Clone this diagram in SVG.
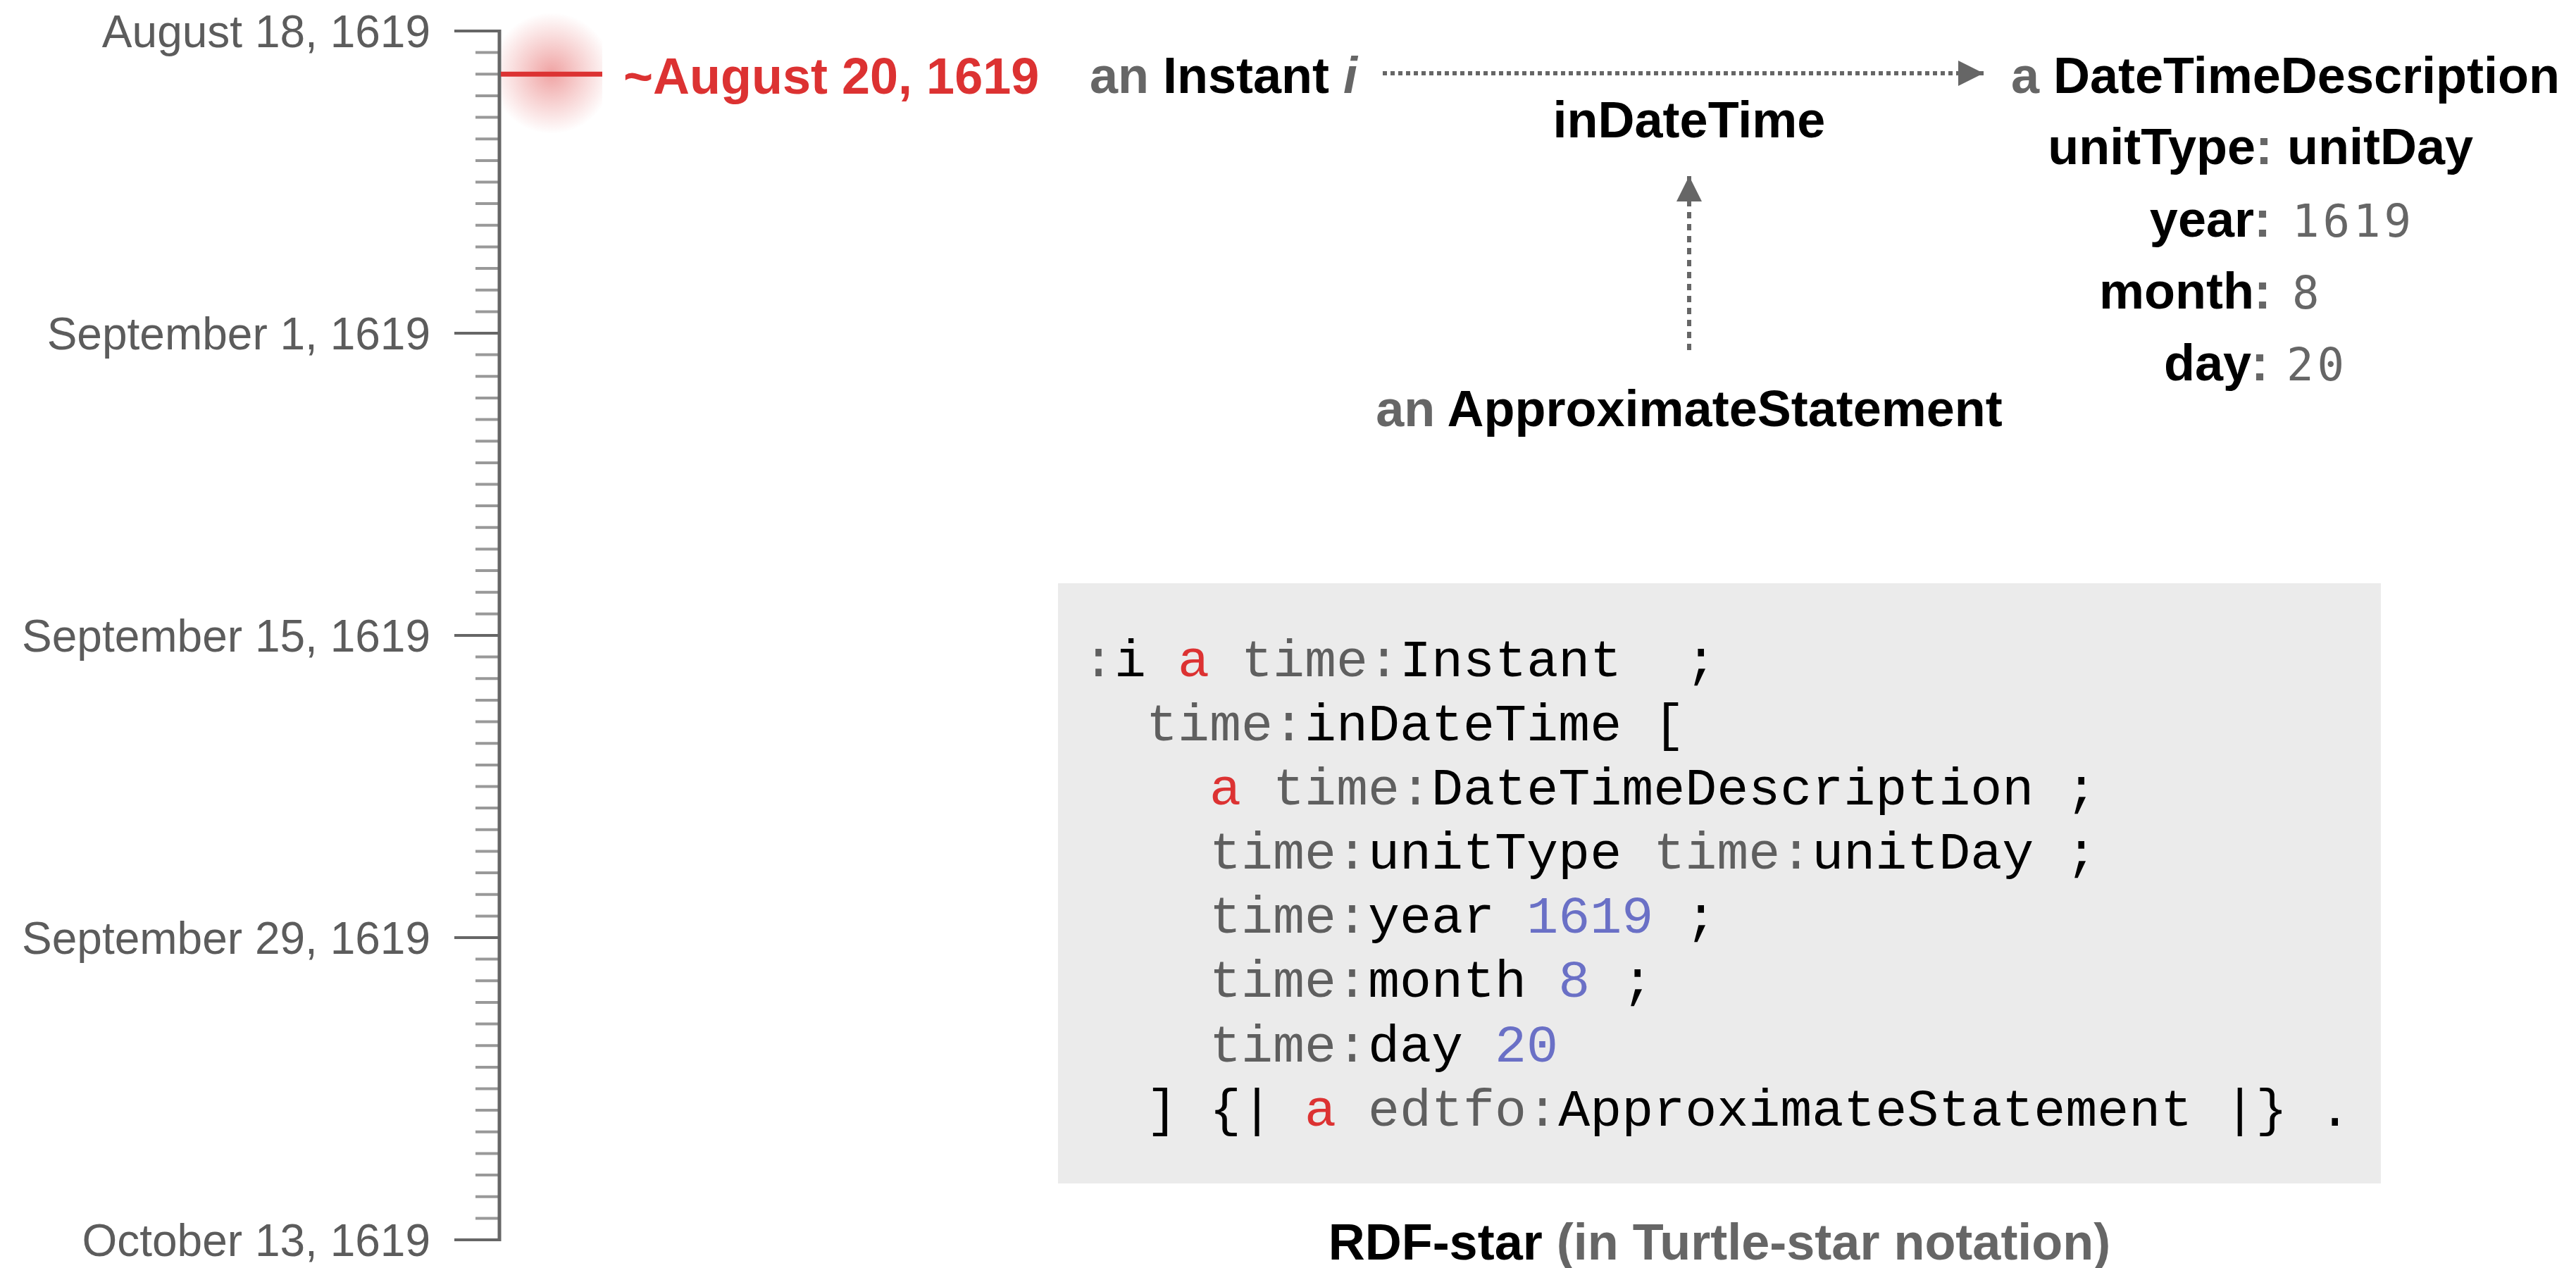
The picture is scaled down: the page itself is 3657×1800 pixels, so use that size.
<svg xmlns="http://www.w3.org/2000/svg" width="3657" height="1800" viewBox="0 0 3657 1800">
  <style>
    .lbl { font-family: "Liberation Sans", Arial, sans-serif; font-size: 72px; font-weight: bold; fill: #000; }
    .dim { fill: #666; }
    .date { font-family: "Liberation Sans", Arial, sans-serif; font-size: 64px; fill: #5c5c5c; text-anchor: end; }
    .val { font-family: "DejaVu Sans Mono", monospace; font-size: 64px; font-weight: normal; fill: #666; letter-spacing: 5px; }
    .code { font-family: "Liberation Mono", "Courier New", monospace; font-size: 75px; fill: #000; white-space: pre; }
    .g { fill: #5f5f5f; }
    .r { fill: #dc3232; }
    .b { fill: #6a70c6; }
    .conn { fill: none; stroke: #666; stroke-width: 6; }
  </style>
  <defs>
    <radialGradient id="glow" cx="0.5" cy="0.5" r="0.5">
      <stop offset="0" stop-color="#dc3232" stop-opacity="0.45"/>
      <stop offset="0.5" stop-color="#dc3232" stop-opacity="0.22"/>
      <stop offset="1" stop-color="#dc3232" stop-opacity="0"/>
    </radialGradient>
    <clipPath id="glowClip">
      <rect x="712" y="0" width="143" height="220"/>
    </clipPath>
    <marker id="head" viewBox="0 0 10 10" refX="10" refY="5" markerWidth="6.2" markerHeight="6" markerUnits="strokeWidth" orient="auto">
      <path d="M0 0L10 5L0 10z" fill="#666"/>
    </marker>
  </defs>

  <!-- timeline axis -->
  <g id="timeline">
    <path d="M675 74.6h32M675 105.3h32M675 135.9h32M675 166.6h32M675 197.2h32M675 227.9h32M675 258.5h32M675 289.1h32M675 319.8h32M675 350.4h32M675 381.1h32M675 411.7h32M675 442.4h32M675 503.6h32M675 534.3h32M675 564.9h32M675 595.6h32M675 626.2h32M675 656.9h32M675 687.5h32M675 718.1h32M675 748.8h32M675 779.4h32M675 810.1h32M675 840.7h32M675 871.4h32M675 932.6h32M675 963.3h32M675 993.9h32M675 1024.6h32M675 1055.2h32M675 1085.9h32M675 1116.5h32M675 1147.1h32M675 1177.8h32M675 1208.4h32M675 1239.1h32M675 1269.7h32M675 1300.4h32M675 1361.6h32M675 1392.3h32M675 1422.9h32M675 1453.6h32M675 1484.2h32M675 1514.9h32M675 1545.5h32M675 1576.1h32M675 1606.8h32M675 1637.4h32M675 1668.1h32M675 1698.7h32M675 1729.4h32" stroke="#999" stroke-width="4" fill="none"/>
    <path d="M645 44h64M645 473h64M645 902h64M645 1331h64M645 1760h64" stroke="#666" stroke-width="4" fill="none"/>
    <line x1="709" y1="42" x2="709" y2="1762" stroke="#666" stroke-width="5"/>
    <text class="date" x="611" y="67">August 18, 1619</text>
    <text class="date" x="611" y="496">September 1, 1619</text>
    <text class="date" x="611" y="925">September 15, 1619</text>
    <text class="date" x="611" y="1354">September 29, 1619</text>
    <text class="date" x="611" y="1783">October 13, 1619</text>
  </g>

  <!-- approximate date marker -->
  <g id="marker-date">
    <circle cx="783" cy="104" r="86" fill="url(#glow)" clip-path="url(#glowClip)"/>
    <line x1="711" y1="105.3" x2="855" y2="105.3" stroke="#dc3232" stroke-width="7"/>
    <text class="lbl r" x="885" y="133">~August 20, 1619</text>
  </g>

  <!-- graph nodes -->
  <g id="node-instant">
    <text class="lbl" x="1547" y="132"><tspan class="dim">an</tspan> Instant <tspan class="dim" font-style="italic">i</tspan></text>
  </g>

  <g id="node-datetime">
    <text class="lbl" x="2855" y="132"><tspan class="dim">a</tspan> DateTimeDescription</text>
    <text class="lbl" x="3226" y="233" text-anchor="end">unitType<tspan class="dim">:</tspan></text>
    <text class="lbl" x="3247" y="233">unitDay</text>
    <text class="lbl" x="3224" y="336" text-anchor="end">year<tspan class="dim">:</tspan></text>
    <text class="val" x="3254" y="336">1619</text>
    <text class="lbl" x="3224" y="438" text-anchor="end">month<tspan class="dim">:</tspan></text>
    <text class="val" x="3254" y="438">8</text>
    <text class="lbl" x="3220" y="540" text-anchor="end">day<tspan class="dim">:</tspan></text>
    <text class="val" x="3246" y="540">20</text>
  </g>

  <g id="node-approx">
    <text class="lbl" x="2398" y="605" text-anchor="middle"><tspan class="dim">an</tspan> ApproximateStatement</text>
  </g>

  <!-- connectors -->
  <g id="connectors">
    <line class="conn" x1="1963" y1="104" x2="2816" y2="104" stroke-dasharray="6 5" marker-end="url(#head)"/>
    <text class="lbl" x="2398" y="195" text-anchor="middle">inDateTime</text>
    <line class="conn" x1="2398" y1="497" x2="2398" y2="250" stroke-dasharray="9 8" marker-end="url(#head)"/>
  </g>

  <!-- RDF-star listing -->
  <g id="code-listing">
    <rect x="1502" y="828" width="1878" height="852" fill="#ebebeb"/>
    <text class="code" xml:space="preserve" x="1537" y="960"><tspan class="g">:</tspan>i <tspan class="r">a</tspan> <tspan class="g">time:</tspan>Instant  ;</text>
    <text class="code" xml:space="preserve" x="1537" y="1051">  <tspan class="g">time:</tspan>inDateTime [</text>
    <text class="code" xml:space="preserve" x="1537" y="1142">    <tspan class="r">a</tspan> <tspan class="g">time:</tspan>DateTimeDescription ;</text>
    <text class="code" xml:space="preserve" x="1537" y="1233">    <tspan class="g">time:</tspan>unitType <tspan class="g">time:</tspan>unitDay ;</text>
    <text class="code" xml:space="preserve" x="1537" y="1324">    <tspan class="g">time:</tspan>year <tspan class="b">1619</tspan> ;</text>
    <text class="code" xml:space="preserve" x="1537" y="1415">    <tspan class="g">time:</tspan>month <tspan class="b">8</tspan> ;</text>
    <text class="code" xml:space="preserve" x="1537" y="1507">    <tspan class="g">time:</tspan>day <tspan class="b">20</tspan></text>
    <text class="code" xml:space="preserve" x="1537" y="1598">  ] {| <tspan class="r">a</tspan> <tspan class="g">edtfo:</tspan>ApproximateStatement |} .</text>
  </g>

  <g id="caption">
    <text class="lbl" x="2441" y="1788" text-anchor="middle">RDF-star <tspan class="dim">(in Turtle-star notation)</tspan></text>
  </g>
</svg>
